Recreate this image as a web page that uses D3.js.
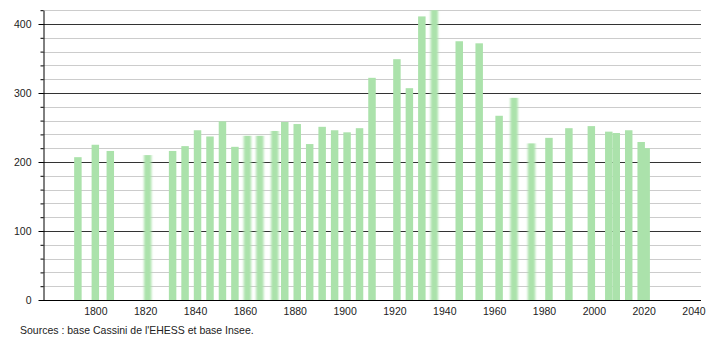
<!DOCTYPE html>
<html>
<head>
<meta charset="utf-8">
<script src="https://cdn.jsdelivr.net/npm/d3@7"></script>
<style>
  body { margin: 0; background: #fff; }
  text { font-family: "Liberation Sans", Arial, sans-serif; }
</style>
</head>
<body>
<div class="main-chart"></div>
<script>
// census years and population
const years = [1793, 1800, 1806, 1821, 1831, 1836, 1841, 1846, 1851, 1856,
               1861, 1866, 1872, 1876, 1881, 1886, 1891, 1896, 1901, 1906,
               1911, 1921, 1926, 1931, 1936, 1946, 1954, 1962, 1968, 1975,
               1982, 1990, 1999, 2006, 2009, 2014, 2019, 2021];
const population = [207, 225, 216, 210, 216, 223, 246, 237, 259, 222,
                    238, 238, 245, 258, 255, 226, 251, 246, 243, 249,
                    322, 349, 307, 411, 420, 375, 372, 267, 293, 227,
                    235, 249, 252, 244, 242, 246, 229, 220];
// bars drawn with soft edges in the original
const fuzzyYears = [1821, 1861, 1866, 1872, 1936, 1968, 1975];
const xTicks = [1800, 1820, 1840, 1860, 1880, 1900, 1920, 1940, 1960, 1980, 2000, 2020, 2040];
const yMajor = [0, 100, 200, 300, 400];
const yMinor = d3.range(20, 421, 20).filter(v => v % 100 !== 0);
const source = "Sources : base Cassini de l'EHESS et base Insee.";

const createGraph = () => {
    const width = 710;
    const height = 340;

    const svg = d3.select(".main-chart").append("svg")
        .attr("width", width)
        .attr("height", height);

    const defs = svg.append("defs");
    defs.append("filter").attr("id", "fuzzy")
        .attr("x", "-50%").attr("width", "200%")
        .append("feGaussianBlur").attr("stdDeviation", "1.3 0.4");

    const x = d3.scaleLinear().domain([1779, 2043]).range([43, 701]);
    const y = d3.scaleLinear().domain([0, 420]).range([300, 10.2]);

    // gridlines
    svg.append("g").selectAll("line")
        .data(yMinor)
        .join("line")
        .attr("x1", 43).attr("x2", 701)
        .attr("y1", d => Math.round(y(d)) + 0.5)
        .attr("y2", d => Math.round(y(d)) + 0.5)
        .attr("stroke", "#cccccc");
    svg.append("g").selectAll("line")
        .data(yMajor.filter(d => d > 0))
        .join("line")
        .attr("x1", 43).attr("x2", 701)
        .attr("y1", d => Math.round(y(d)) + 0.5)
        .attr("y2", d => Math.round(y(d)) + 0.5)
        .attr("stroke", "#333333");

    // bars
    const barW = x(1782) - x(1779);
    const data = years.map((yr, i) => ({ year: yr, value: population[i] }));
    svg.append("g").selectAll("rect")
        .data(data)
        .join("rect")
        .attr("x", d => x(d.year) - barW / 2)
        .attr("y", d => y(d.value))
        .attr("width", barW)
        .attr("height", d => y(0) - y(d.value))
        .attr("fill", "#abe2ab")
        .attr("filter", d => fuzzyYears.includes(d.year) ? "url(#fuzzy)" : null);

    // y axis with major and minor ticks
    svg.append("g")
        .attr("transform", "translate(43.5,0)")
        .call(d3.axisLeft(y).tickValues(yMinor).tickSize(3).tickFormat(""))
        .call(g => g.select(".domain").remove());
    svg.append("g")
        .attr("transform", "translate(43.5,0)")
        .call(d3.axisLeft(y).tickValues(yMajor).tickSize(5).tickPadding(7).tickSizeOuter(0))
        .call(g => g.selectAll("text").attr("font-size", 10.5).attr("fill", "#222")
                     .attr("font-family", "'Liberation Sans', Arial, sans-serif"));

    // x axis, labels only
    const xAxis = svg.append("g")
        .attr("transform", "translate(0,300.5)")
        .call(d3.axisBottom(x).tickValues(xTicks).tickFormat(d3.format("d")).tickSize(0).tickPadding(7))
        .call(g => g.select(".domain").remove())
        .call(g => g.selectAll("text").attr("font-size", 10.5).attr("fill", "#222")
                     .attr("font-family", "'Liberation Sans', Arial, sans-serif"));
    xAxis.append("line")
        .attr("x1", 39).attr("x2", 701)
        .attr("stroke", "#000");

    svg.append("text")
        .attr("x", 20).attr("y", 334)
        .attr("font-size", 10.5)
        .attr("fill", "#222")
        .text(source);
};

createGraph();
</script>
</body>
</html>
